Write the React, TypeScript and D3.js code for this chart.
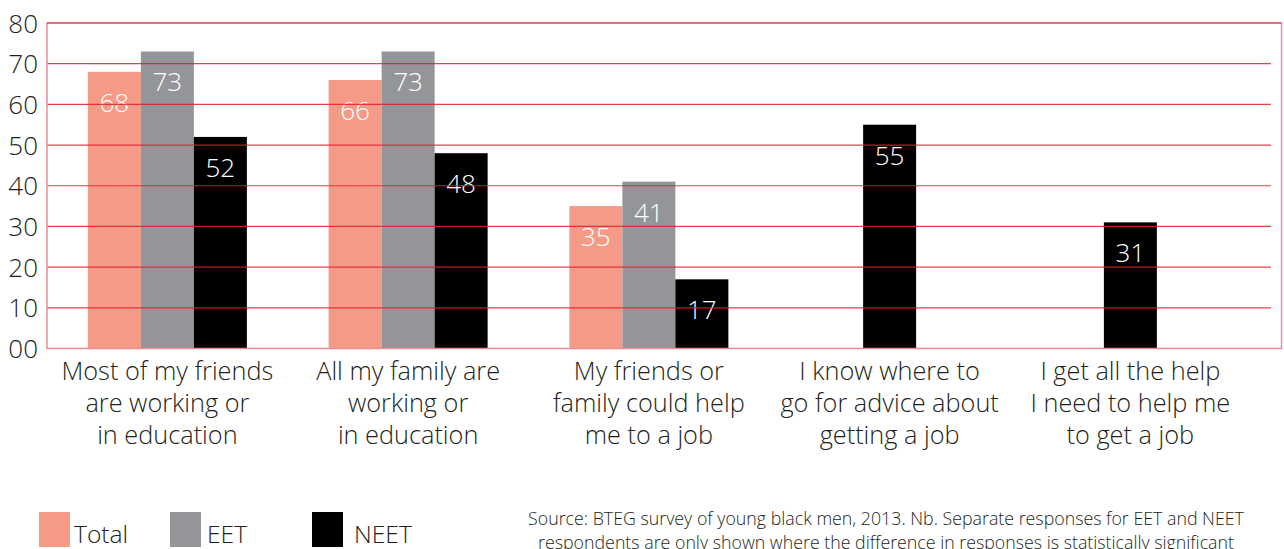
import React from "react";
import * as d3 from "d3";

const categories: string[][] = [
  ["Most of my friends", "are working or", "in education"],
  ["All my family are", "working or", "in education"],
  ["My friends or", "family could help", "me to a job"],
  ["I know where to", "go for advice about", "getting a job"],
  ["I get all the help", "I need to help me", "to get a job"],
];
const seriesNames = ["Total", "EET", "NEET"];
const totalValues: (number | null)[] = [68, 66, 35, null, null];
const eetValues: (number | null)[] = [73, 73, 41, null, null];
const neetValues: (number | null)[] = [52, 48, 17, 55, 31];
const yTicks = [0, 10, 20, 30, 40, 50, 60, 70, 80];
const sourceLines = [
  "Source: BTEG survey of young black men, 2013. Nb. Separate responses for EET and NEET",
  "respondents are only shown where the difference in responses is statistically significant",
];

const colors = ["#f59a87", "#939598", "#000000"];
const FONT = "'Open Sans', 'Lato', sans-serif";

export default function App() {
  const W = 1284, H = 549;
  const left = 47, right = 1281.5, top = 23, bottom = 348.5;
  const y = d3.scaleLinear().domain([0, 80]).range([bottom, top]);
  const x = d3.scaleBand<number>().domain(categories.map((_, i) => i)).range([left, left + 5 * 240.75]).padding(0);
  const barW = 53;
  const allSeries = [totalValues, eetValues, neetValues];
  const fmt = d3.format("02d");

  const bars: JSX.Element[] = [];
  const labels: JSX.Element[] = [];
  categories.forEach((_, ci) => {
    const present = allSeries.map((s, si) => ({ si, v: s[ci] })).filter(d => d.v != null) as { si: number; v: number }[];
    const cx = (x(ci) as number) + x.bandwidth() / 2;
    const inner = d3.scaleBand<number>().domain(present.map(d => d.si)).range([cx - (barW * present.length) / 2, cx + (barW * present.length) / 2]);
    present.forEach(d => {
      const bx = inner(d.si) as number;
      bars.push(<rect key={`b${ci}-${d.si}`} x={bx} y={y(d.v)} width={inner.bandwidth()} height={y(0) - y(d.v)} fill={colors[d.si]} />);
      labels.push(
        <text key={`l${ci}-${d.si}`} x={bx + inner.bandwidth() / 2} y={y(d.v) + 40} textAnchor="middle" fill="#ffffff" fontSize={26} fontWeight={300}>
          {d.v}
        </text>
      );
    });
  });

  return (
    <div style={{ position: "absolute", left: 0, top: 0 }}>
      <svg width={W} height={H} style={{ display: "block", fontFamily: FONT }}>
        <rect x={0} y={0} width={W} height={H} fill="#ffffff" />
        {bars}
        {labels}
        {yTicks.filter(t => t > 0 && t < 80).map(t => (
          <line key={`g${t}`} x1={left} x2={1271} y1={y(t)} y2={y(t)} stroke="#e3202e" strokeOpacity={0.85} strokeWidth={1.2} />
        ))}
        <rect x={left} y={top} width={right - left} height={bottom - top} fill="none" stroke="#f08a94" strokeWidth={1.5} />
        <line x1={left} x2={right} y1={top} y2={top} stroke="#e6303c" strokeWidth={1} />
        {yTicks.map(t => (
          <text key={`t${t}`} x={38} y={y(t) + 9.5} textAnchor="end" fill="#231f20" fontSize={26} fontWeight={300}>
            {fmt(t)}
          </text>
        ))}
        {categories.map((lines, ci) => (
          <text key={`c${ci}`} textAnchor="middle" fill="#231f20" fontSize={25.3} fontWeight={300}>
            {lines.map((ln, li) => (
              <tspan key={li} x={(x(ci) as number) + x.bandwidth() / 2} y={380 + li * 32}>
                {ln}
              </tspan>
            ))}
          </text>
        ))}
        {seriesNames.map((n, i) => {
          const lx = [39, 170, 312][i];
          const tx = [74, 207, 354][i];
          return (
            <g key={`lg${i}`}>
              <rect x={lx} y={512} width={31} height={35} fill={colors[i]} />
              <text x={tx} y={543} fill="#231f20" fontSize={24.6} fontWeight={300}>{n}</text>
            </g>
          );
        })}
        {sourceLines.map((s, i) => (
          <text key={`s${i}`} x={886} y={525 + i * 24} textAnchor="middle" fill="#231f20" fontSize={17.8} fontWeight={300}>
            {s}
          </text>
        ))}
      </svg>
    </div>
  );
}
